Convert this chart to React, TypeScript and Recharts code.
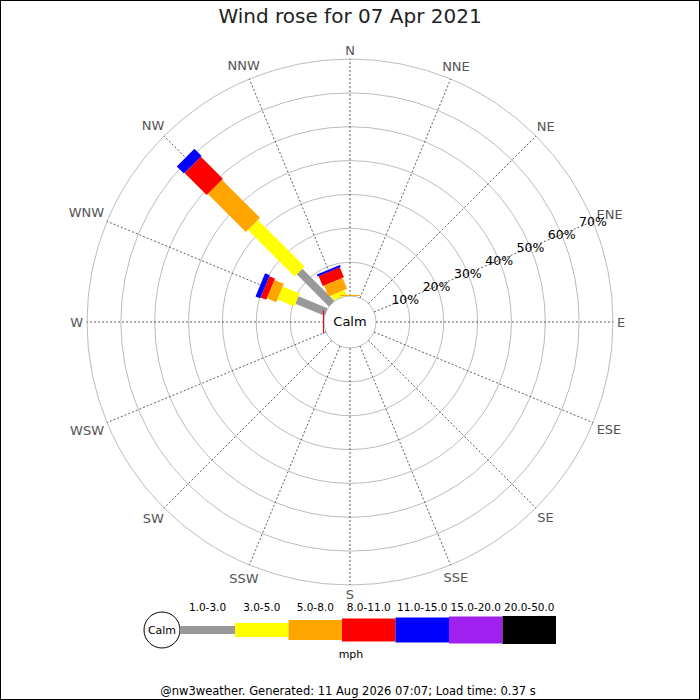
import React from 'react';
import { RadialBarChart, RadialBar, PolarGrid, PolarAngleAxis, PolarRadiusAxis, Legend } from 'recharts';

const DIRECTIONS = ['N', 'NNE', 'NE', 'ENE', 'E', 'ESE', 'SE', 'SSE', 'S', 'SSW', 'SW', 'WSW', 'W', 'WNW', 'NW', 'NNW'];
const SPEED_BANDS = ['1.0-3.0', '3.0-5.0', '5.0-8.0', '8.0-11.0', '11.0-15.0', '15.0-20.0', '20.0-50.0'];
const RING_TICKS = [0, 10, 20, 30, 40, 50, 60, 70];

// percent of time, per direction (N ... NNW)
const band1 = [0, 0, 0, 0, 0, 0, 0, 0, 0, 0, 0, 0, 0, 9.3, 13.4, 0.1];
const band2 = [0, 0, 0, 0, 0, 0, 0, 0, 0, 0, 0, 0, 0, 5.4, 19.5, 1.6];
const band3 = [0.3, 0, 0, 0, 0, 0, 0, 0, 0, 0, 0, 0, 0, 3.0, 15.9, 3.5];
const band4 = [0, 0, 0, 0, 0, 0, 0, 0, 0, 0, 0, 0, 0.3, 1.8, 9.2, 3.2];
const band5 = [0, 0, 0, 0, 0, 0, 0, 0, 0, 0, 0, 0, 0, 1.5, 3.0, 0.6];
const band6 = [0, 0, 0, 0, 0, 0, 0, 0, 0, 0, 0, 0, 0, 0, 0, 0];
const band7 = [0, 0, 0, 0, 0, 0, 0, 0, 0, 0, 0, 0, 0, 0, 0, 0];

const BANDS = [band1, band2, band3, band4, band5, band6, band7];
const BAND_COLORS = ['#999999', '#ffff00', '#ffa500', '#ff0000', '#0000ff', '#a020f0', '#000000'];
const BAND_WIDTHS = [8, 14, 20, 23, 25, 27, 28];

const data = DIRECTIONS.map((dir, i) => {
  const row: Record<string, any> = { dir };
  BANDS.forEach((b, k) => {
    row['b' + k] = b[i];
  });
  return row;
});

const RAD = Math.PI / 180;
const HALF_BAND = 180 / DIRECTIONS.length;
const ANGLE_TICK_SIZE = 8;

// Each speed band is drawn as a straight bar along the direction spoke
const makeShape = (k: number) => (props: any) => {
  const { cx, cy, innerRadius, outerRadius, startAngle, endAngle } = props;
  if (!(outerRadius - innerRadius > 0.01)) return <g />;
  // the sector spans the band that starts at the tick; centre it on the tick
  const mid = (startAngle + endAngle) / 2 - HALF_BAND;
  const ux = Math.cos(-mid * RAD);
  const uy = Math.sin(-mid * RAD);
  const px = -uy;
  const py = ux;
  const h = BAND_WIDTHS[k] / 2;
  const pts = [
    [cx + ux * innerRadius + px * h, cy + uy * innerRadius + py * h],
    [cx + ux * outerRadius + px * h, cy + uy * outerRadius + py * h],
    [cx + ux * outerRadius - px * h, cy + uy * outerRadius - py * h],
    [cx + ux * innerRadius - px * h, cy + uy * innerRadius - py * h],
  ]
    .map((p) => p.join(','))
    .join(' ');
  return <polygon points={pts} fill={BAND_COLORS[k]} />;
};

const CHAR_W: Record<string, number> = { N: 0.748, E: 0.632, S: 0.635, W: 0.989 };
const DIR_FONT = 13;

const AngleTick = (props: any) => {
  const { x, y, payload } = props;
  const label = String(payload.value);
  const angle = payload.coordinate;
  const ux = Math.cos(-angle * RAD);
  const uy = Math.sin(-angle * RAD);
  const w = label.split('').reduce((s, c) => s + (CHAR_W[c] || 0.7), 0) * DIR_FONT;
  const d = 4 - ANGLE_TICK_SIZE + (w / 2) * Math.abs(ux) + 5 * Math.abs(uy);
  return (
    <text
      x={x + d * ux}
      y={y + d * uy}
      textAnchor="middle"
      dominantBaseline="central"
      fontSize={DIR_FONT}
      fill="#555"
    >
      {label}
    </text>
  );
};

const RadiusTick = (props: any) => {
  const { x, y, payload } = props;
  if (payload.value === 0) return <g />;
  return (
    <text x={x} y={y} textAnchor="middle" dominantBaseline="central" fontSize={12.5} fill="#000">
      {`${payload.value}%`}
    </text>
  );
};

const segX = (i: number) => (i === 0 ? 40 : 95 + (i - 1) * 53.5);
const segW = (i: number) => (i === 0 ? 55 : 53.5);

const renderLegend = () => (
  <svg width={430} height={75} style={{ display: 'block', overflow: 'visible' }}>
    <circle cx={22} cy={35} r={18} fill="#fff" stroke="#000" strokeWidth={1} />
    <text x={22} y={35} fontSize={11} textAnchor="middle" dominantBaseline="central" fill="#000">
      Calm
    </text>
    {SPEED_BANDS.map((name, i) => (
      <g key={name}>
        <rect x={segX(i)} y={35 - BAND_WIDTHS[i] / 2} width={segW(i)} height={BAND_WIDTHS[i]} fill={BAND_COLORS[i]} />
        <text x={segX(i) + segW(i) / 2} y={12} fontSize={10.5} textAnchor="middle" dominantBaseline="central" fill="#000">
          {name}
        </text>
      </g>
    ))}
    <text x={211} y={59} fontSize={11} textAnchor="middle" dominantBaseline="central" fill="#000">
      mph
    </text>
  </svg>
);

export default function App() {
  return (
    <div style={{ position: 'relative', width: 700, height: 700, fontFamily: '"DejaVu Sans", sans-serif', background: '#fff' }}>
      <style>{`body{margin:0;}`}</style>
      <RadialBarChart
        width={700}
        height={700}
        data={data}
        layout="centric"
        cx={350}
        cy={322}
        innerRadius={26}
        outerRadius={263}
        startAngle={90}
        endAngle={-270}
        margin={{ top: 0, right: 0, bottom: 0, left: 0 }}
      >
        <PolarGrid gridType="circle" radialLines={false} stroke="#aaaaaa" strokeWidth={0.8} />
        <PolarGrid gridType="circle" polarRadius={[]} stroke="#333" strokeWidth={0.8} strokeDasharray="2 2" />
        <PolarAngleAxis
          dataKey="dir"
          type="category"
          axisLine={false}
          tickLine={false}
          tickSize={ANGLE_TICK_SIZE}
          tick={AngleTick}
        />
        <PolarRadiusAxis
          angle={22.5}
          type="number"
          domain={[0, 70]}
          ticks={RING_TICKS}
          axisLine={false}
          tickLine={false}
          orientation="middle"
          tick={RadiusTick}
        />
        {SPEED_BANDS.map((name, k) => (
          <RadialBar
            key={name}
            dataKey={'b' + k}
            name={name}
            stackId="wind"
            fill={BAND_COLORS[k]}
            isAnimationActive={false}
            shape={makeShape(k)}
          />
        ))}
        <Legend
          verticalAlign="bottom"
          content={renderLegend}
          wrapperStyle={{ top: 595, left: 140, bottom: 'auto', width: 430, height: 75 }}
        />
      </RadialBarChart>
      <div style={{ position: 'absolute', left: 0, top: 4, width: 700, textAlign: 'center', fontSize: 20, color: '#222' }}>
        Wind rose for 07 Apr 2021
      </div>
      <div style={{ position: 'absolute', left: 325, top: 310, width: 50, textAlign: 'center', fontSize: 13, color: '#000', lineHeight: '24px' }}>
        Calm
      </div>
      <div style={{ position: 'absolute', left: 0, top: 684, width: 696, textAlign: 'center', fontSize: 11.5, color: '#000' }}>
        @nw3weather. Generated: 11 Aug 2026 07:07; Load time: 0.37 s
      </div>
      <div style={{ position: 'absolute', left: 0, top: 0, width: 700, height: 700, border: '1px solid #000', boxSizing: 'border-box', pointerEvents: 'none' }} />
    </div>
  );
}
